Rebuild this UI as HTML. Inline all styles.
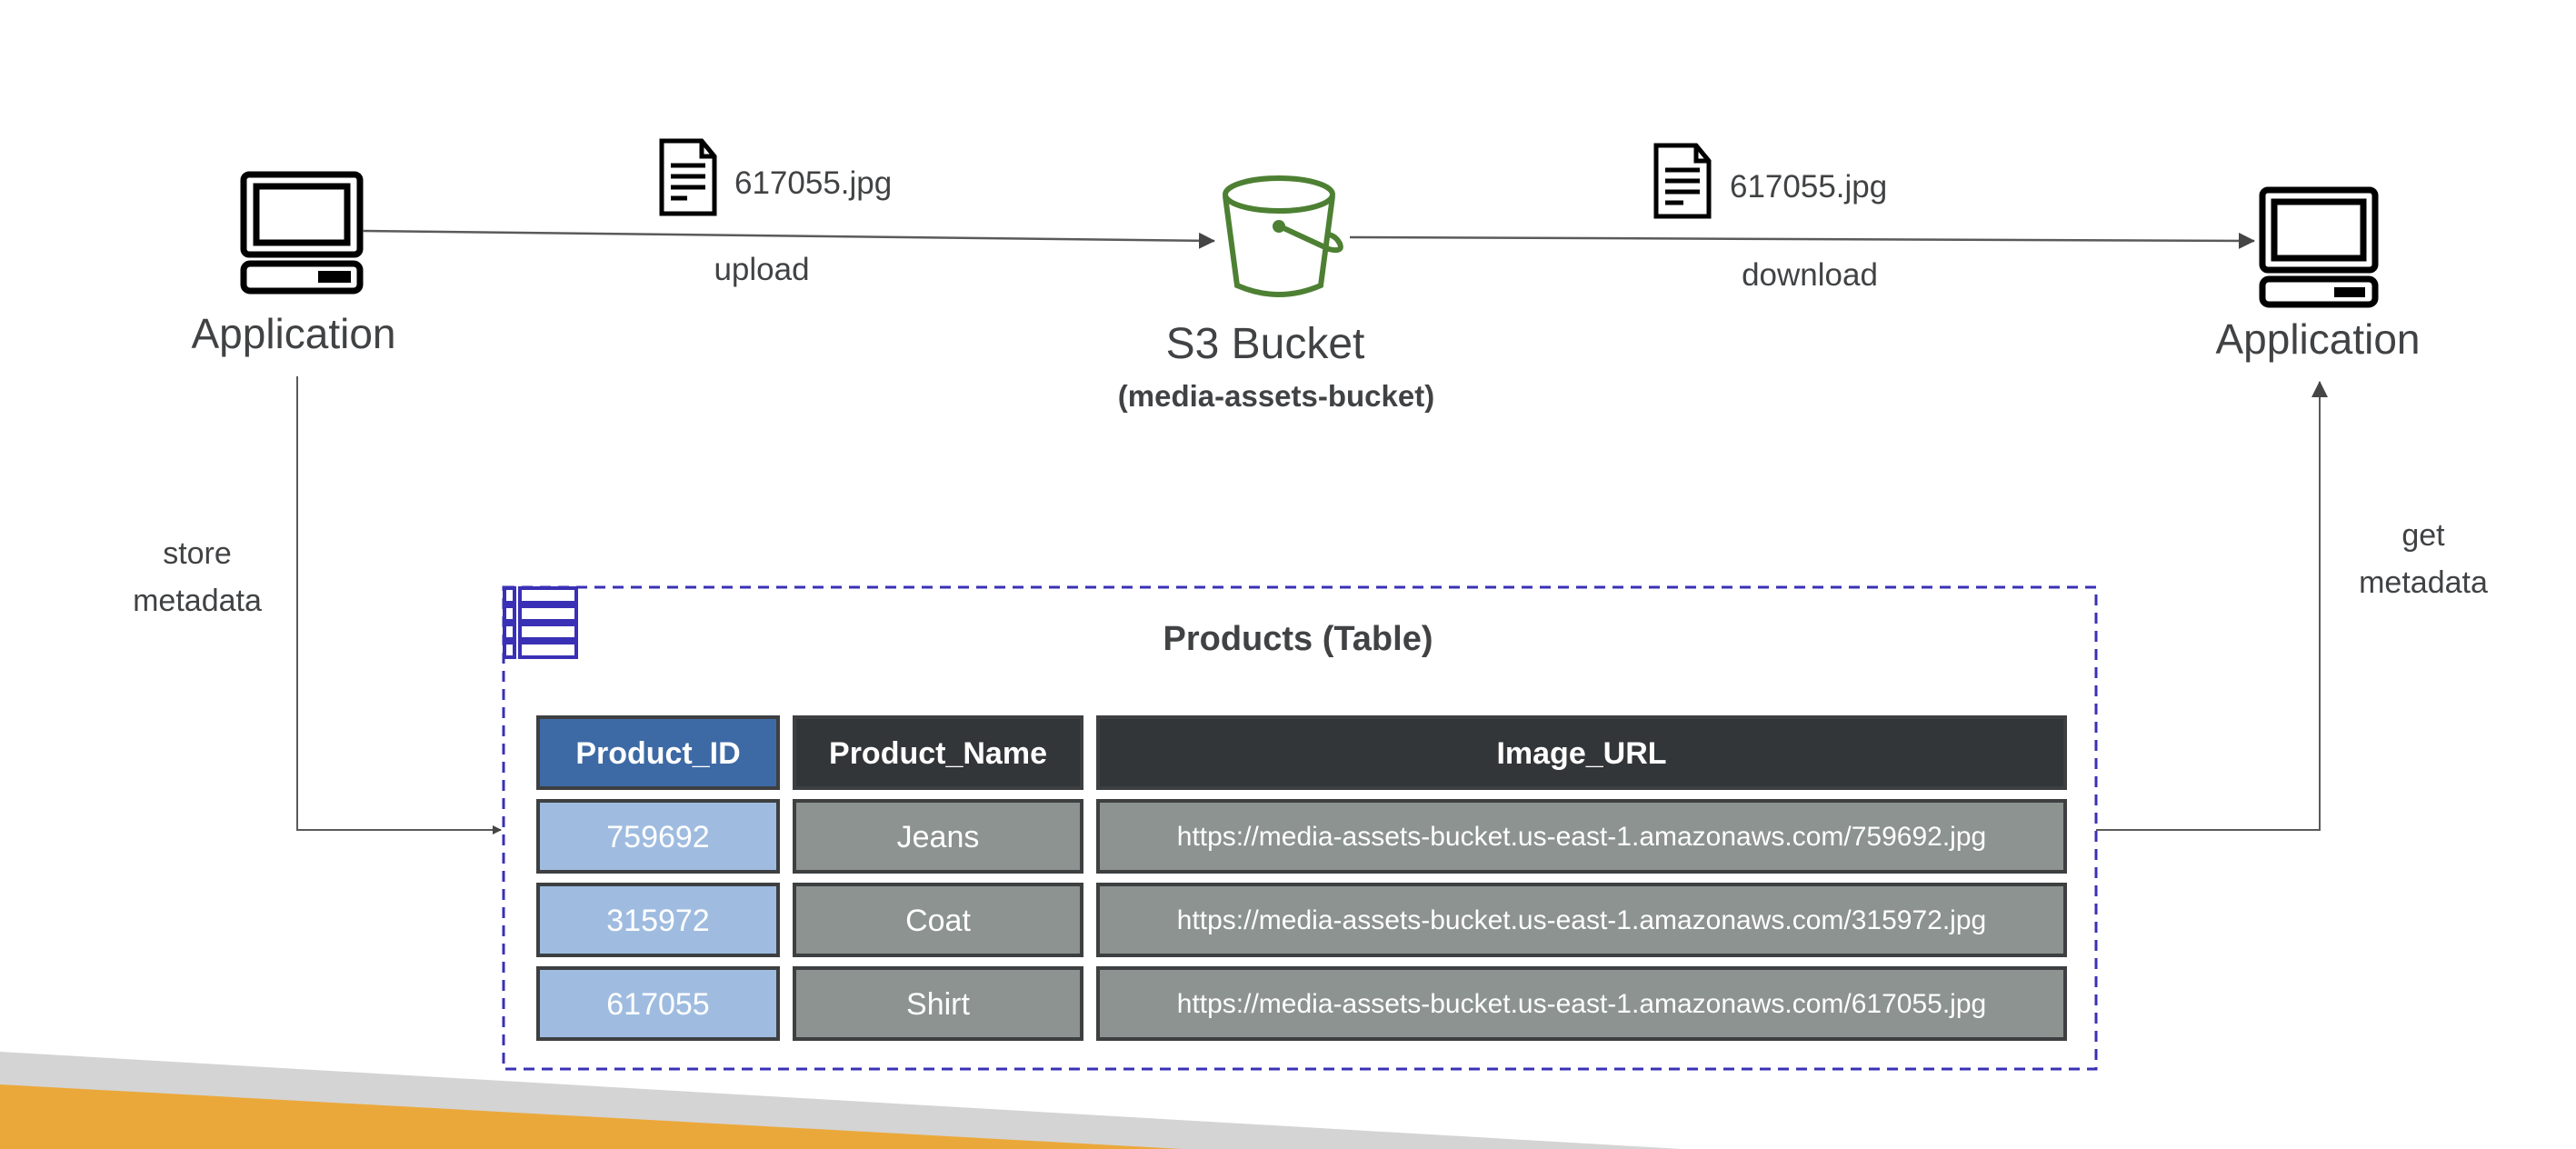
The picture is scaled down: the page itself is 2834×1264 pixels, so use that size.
<!DOCTYPE html>
<html><head><meta charset="utf-8"><style>
html,body{margin:0;padding:0;background:#fff;}
svg{display:block;}
text{font-family:"Liberation Sans",sans-serif;fill:#404244;}
</style></head><body>
<svg width="2834" height="1264" viewBox="0 0 2834 1264" xmlns="http://www.w3.org/2000/svg">
<defs>
<marker id="ar" markerWidth="10" markerHeight="10" refX="9" refY="5" orient="auto" markerUnits="userSpaceOnUse">
<path d="M0,0 L10,5 L0,10 z" fill="#454545"/></marker>
<marker id="ar2" markerWidth="18" markerHeight="18" refX="17" refY="9" orient="auto" markerUnits="userSpaceOnUse">
<path d="M0,0 L18,9 L0,18 z" fill="#454545"/></marker>
</defs>
<polygon points="0,1157 1850,1264 0,1264" fill="#d4d4d4"/>
<polygon points="0,1193 1300,1264 0,1264" fill="#eba83a"/>

<g fill="none" stroke="#000" stroke-width="7">
<rect x="268" y="192" width="128" height="88" rx="6"/>
<rect x="282" y="205" width="100" height="62"/>
<rect x="268" y="290" width="128" height="30" rx="7"/>
</g>
<rect x="350" y="298" width="36" height="13" fill="#000"/>
<text x="323" y="383" font-size="46" text-anchor="middle">Application</text>

<line x1="399" y1="254" x2="1336" y2="265" stroke="#5a5a5a" stroke-width="2.5" marker-end="url(#ar2)"/>
<g fill="none" stroke="#000" stroke-width="5">
<path d="M728,155 L772,155 L786,172 L786,235 L728,235 z"/>
<path d="M772,155 L772,172 L786,172"/>
</g>
<g stroke="#000" stroke-width="5"><line x1="738" y1="182" x2="776" y2="182"/><line x1="738" y1="194" x2="776" y2="194"/><line x1="738" y1="206" x2="776" y2="206"/><line x1="738" y1="218" x2="756" y2="218"/></g>
<text x="808" y="213" font-size="35">617055.jpg</text>
<text x="838" y="308" font-size="35" text-anchor="middle">upload</text>

<!-- S3 bucket -->
<g fill="none" stroke="#4d8033" stroke-width="6">
<ellipse cx="1407" cy="214" rx="59" ry="18"/>
<path d="M1348,216 L1361,314 Q1407,334 1453,314 L1466,216"/>
<path d="M1408,249 L1462,274 Q1478,278 1474,268 Q1470,260 1462,258"/>
</g>
<circle cx="1407" cy="249" r="7" fill="#4d8033"/>
<text x="1392" y="394" font-size="48" text-anchor="middle">S3 Bucket</text>
<text x="1404" y="447" font-size="33" font-weight="bold" text-anchor="middle">(media-assets-bucket)</text>

<line x1="1485" y1="261" x2="2480" y2="265" stroke="#5a5a5a" stroke-width="2.5" marker-end="url(#ar2)"/>
<g fill="none" stroke="#000" stroke-width="5">
<path d="M1822,160 L1866,160 L1880,177 L1880,238 L1822,238 z"/>
<path d="M1866,160 L1866,177 L1880,177"/>
</g>
<g stroke="#000" stroke-width="5"><line x1="1832" y1="187" x2="1870" y2="187"/><line x1="1832" y1="199" x2="1870" y2="199"/><line x1="1832" y1="211" x2="1870" y2="211"/><line x1="1832" y1="223" x2="1852" y2="223"/></g>
<text x="1903" y="217" font-size="35">617055.jpg</text>
<text x="1991" y="314" font-size="35" text-anchor="middle">download</text>

<g fill="none" stroke="#000" stroke-width="7">
<rect x="2489" y="209" width="124" height="88" rx="6"/>
<rect x="2502" y="222" width="98" height="62"/>
<rect x="2489" y="307" width="124" height="28" rx="7"/>
</g>
<rect x="2568" y="316" width="34" height="11" fill="#000"/>
<text x="2550" y="389" font-size="46" text-anchor="middle">Application</text>

<polyline points="327,414 327,913 551,913" fill="none" stroke="#5a5a5a" stroke-width="2" marker-end="url(#ar)"/>
<text x="217" y="620" font-size="34" text-anchor="middle">store</text>
<text x="217" y="672" font-size="34" text-anchor="middle">metadata</text>

<polyline points="2306,913 2552,913 2552,420" fill="none" stroke="#5a5a5a" stroke-width="2" marker-end="url(#ar2)"/>
<text x="2666" y="600" font-size="34" text-anchor="middle">get</text>
<text x="2666" y="652" font-size="34" text-anchor="middle">metadata</text>

<rect x="554" y="646" width="1752" height="530" fill="none" stroke="#3a30b5" stroke-width="3" stroke-dasharray="12,8"/>
<g fill="#fff" stroke="#3a30b5" stroke-width="4">
<rect x="555" y="647" width="11" height="16"/><rect x="572" y="647" width="62" height="16"/>
<rect x="555" y="667" width="11" height="16"/><rect x="572" y="667" width="62" height="16"/>
<rect x="555" y="687" width="11" height="16"/><rect x="572" y="687" width="62" height="16"/>
<rect x="555" y="707" width="11" height="16"/><rect x="572" y="707" width="62" height="16"/>
</g>
<text x="1428" y="715" font-size="38" font-weight="bold" text-anchor="middle">Products (Table)</text>

<g stroke="#3d3f41" stroke-width="4">
<rect x="592" y="789" width="264" height="78" fill="#3d6aa5"/>
<rect x="874" y="789" width="316" height="78" fill="#333638"/>
<rect x="1208" y="789" width="1064" height="78" fill="#333638"/>
<rect x="592" y="881" width="264" height="78" fill="#9fbce0"/>
<rect x="874" y="881" width="316" height="78" fill="#8c9390"/>
<rect x="1208" y="881" width="1064" height="78" fill="#8c9390"/>
<rect x="592" y="973" width="264" height="78" fill="#9fbce0"/>
<rect x="874" y="973" width="316" height="78" fill="#8c9390"/>
<rect x="1208" y="973" width="1064" height="78" fill="#8c9390"/>
<rect x="592" y="1065" width="264" height="78" fill="#9fbce0"/>
<rect x="874" y="1065" width="316" height="78" fill="#8c9390"/>
<rect x="1208" y="1065" width="1064" height="78" fill="#8c9390"/>
</g>
<g font-size="34" text-anchor="middle">
<text x="724" y="840" font-weight="bold" style="fill:#fff">Product_ID</text>
<text x="1032" y="840" font-weight="bold" style="fill:#fff">Product_Name</text>
<text x="1740" y="840" font-weight="bold" style="fill:#fff">Image_URL</text>
<text x="724" y="932" style="fill:#fff">759692</text>
<text x="1032" y="932" style="fill:#fff">Jeans</text>
<text x="1740" y="930" font-size="30" style="fill:#fff">https://media-assets-bucket.us-east-1.amazonaws.com/759692.jpg</text>
<text x="724" y="1024" style="fill:#fff">315972</text>
<text x="1032" y="1024" style="fill:#fff">Coat</text>
<text x="1740" y="1022" font-size="30" style="fill:#fff">https://media-assets-bucket.us-east-1.amazonaws.com/315972.jpg</text>
<text x="724" y="1116" style="fill:#fff">617055</text>
<text x="1032" y="1116" style="fill:#fff">Shirt</text>
<text x="1740" y="1114" font-size="30" style="fill:#fff">https://media-assets-bucket.us-east-1.amazonaws.com/617055.jpg</text>
</g>
</svg>
</body></html>
